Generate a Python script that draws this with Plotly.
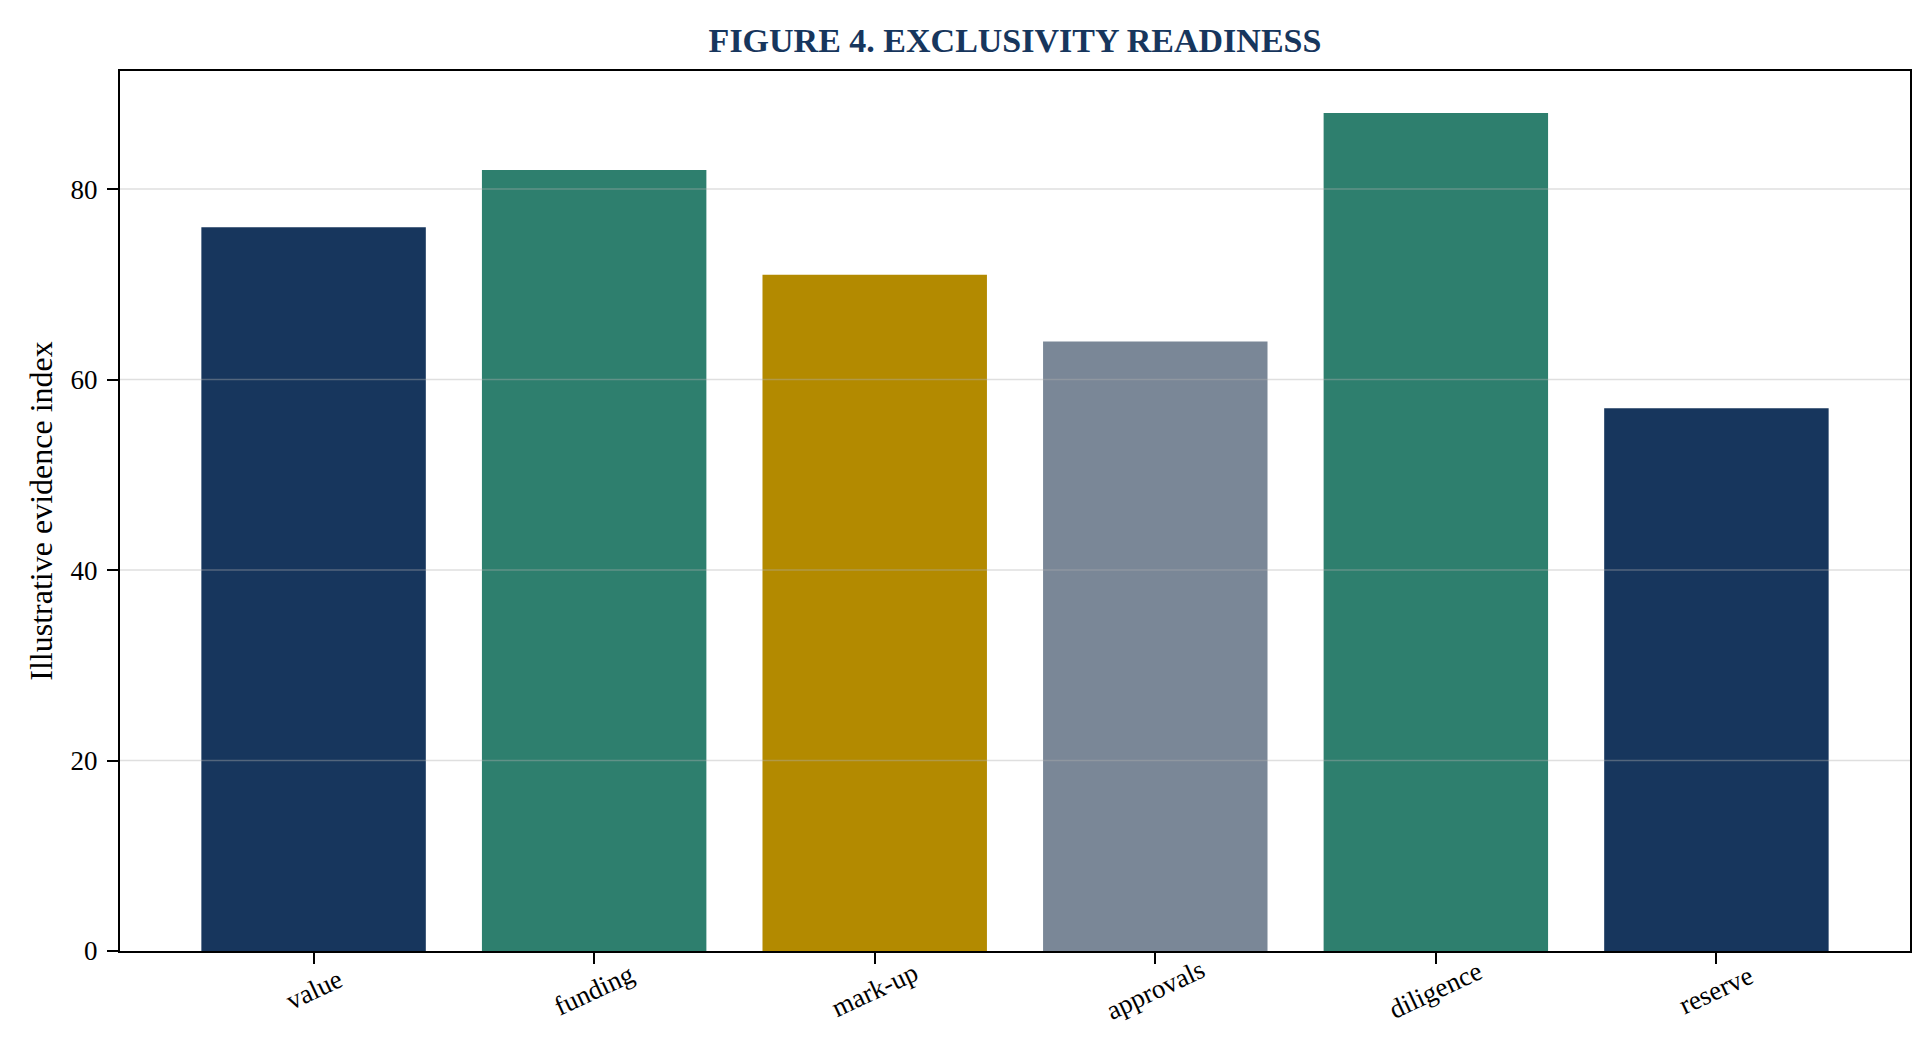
import plotly.graph_objects as go

# data
categories = ["value", "funding", "mark-up", "approvals", "diligence", "reserve"]
scores = [76, 82, 71, 64, 88, 57]
bar_colors = ["#17365D", "#2E7F6E", "#B38A00", "#7A8797", "#2E7F6E", "#17365D"]
y_ticks = [0, 20, 40, 60, 80]

font_family = "Liberation Serif, Times New Roman, serif"

fig = go.Figure(
    go.Bar(
        x=list(range(len(categories))),
        y=scores,
        marker=dict(color=bar_colors, line=dict(width=0)),
        width=0.8,
        hoverinfo="skip",
    )
)

# grid lines sit on top of the bars (faint)
for t in y_ticks[1:]:
    fig.add_shape(
        type="line", xref="x domain", yref="y",
        x0=0, x1=1, y0=t, y1=t,
        line=dict(color="rgba(176,176,176,0.4)", width=1.5),
        layer="above",
    )

# rotated category labels centred under each tick
for i, c in enumerate(categories):
    fig.add_annotation(
        x=i, y=0, xref="x", yref="paper",
        text=c, showarrow=False, textangle=-25,
        xanchor="center", yanchor="middle", yshift=-39,
        font=dict(family=font_family, size=27, color="black"),
    )

fig.update_layout(
    width=1924, height=1052,
    margin=dict(l=112, r=22, t=63, b=109),
    plot_bgcolor="white", paper_bgcolor="white",
    showlegend=False,
    font=dict(family=font_family, size=27, color="black"),
    title=dict(
        text="<b>FIGURE 4. EXCLUSIVITY READINESS</b>",
        x=(112 + 1902) / 2 / 1924, xanchor="center",
        y=1 - 32 / 1052, yanchor="middle",
        font=dict(family=font_family, size=34, color="#17365D"),
    ),
)

fig.update_xaxes(
    range=[-0.69, 5.69],
    tickvals=list(range(len(categories))),
    showticklabels=False,
    ticks="outside", ticklen=11, tickwidth=2, tickcolor="black",
    showline=True, linecolor="black", linewidth=2, mirror=True,
    showgrid=False, zeroline=False,
)
fig.update_yaxes(
    range=[0, 92.4],
    tickvals=y_ticks,
    ticks="outside", ticklen=11, tickwidth=2, tickcolor="black",
    tickfont=dict(size=27), ticklabelstandoff=4,
    showline=True, linecolor="black", linewidth=2, mirror=True,
    showgrid=False, zeroline=False,
    title=dict(text="Illustrative evidence index", font=dict(size=32), standoff=8),
)

fig.write_html("out.html")
